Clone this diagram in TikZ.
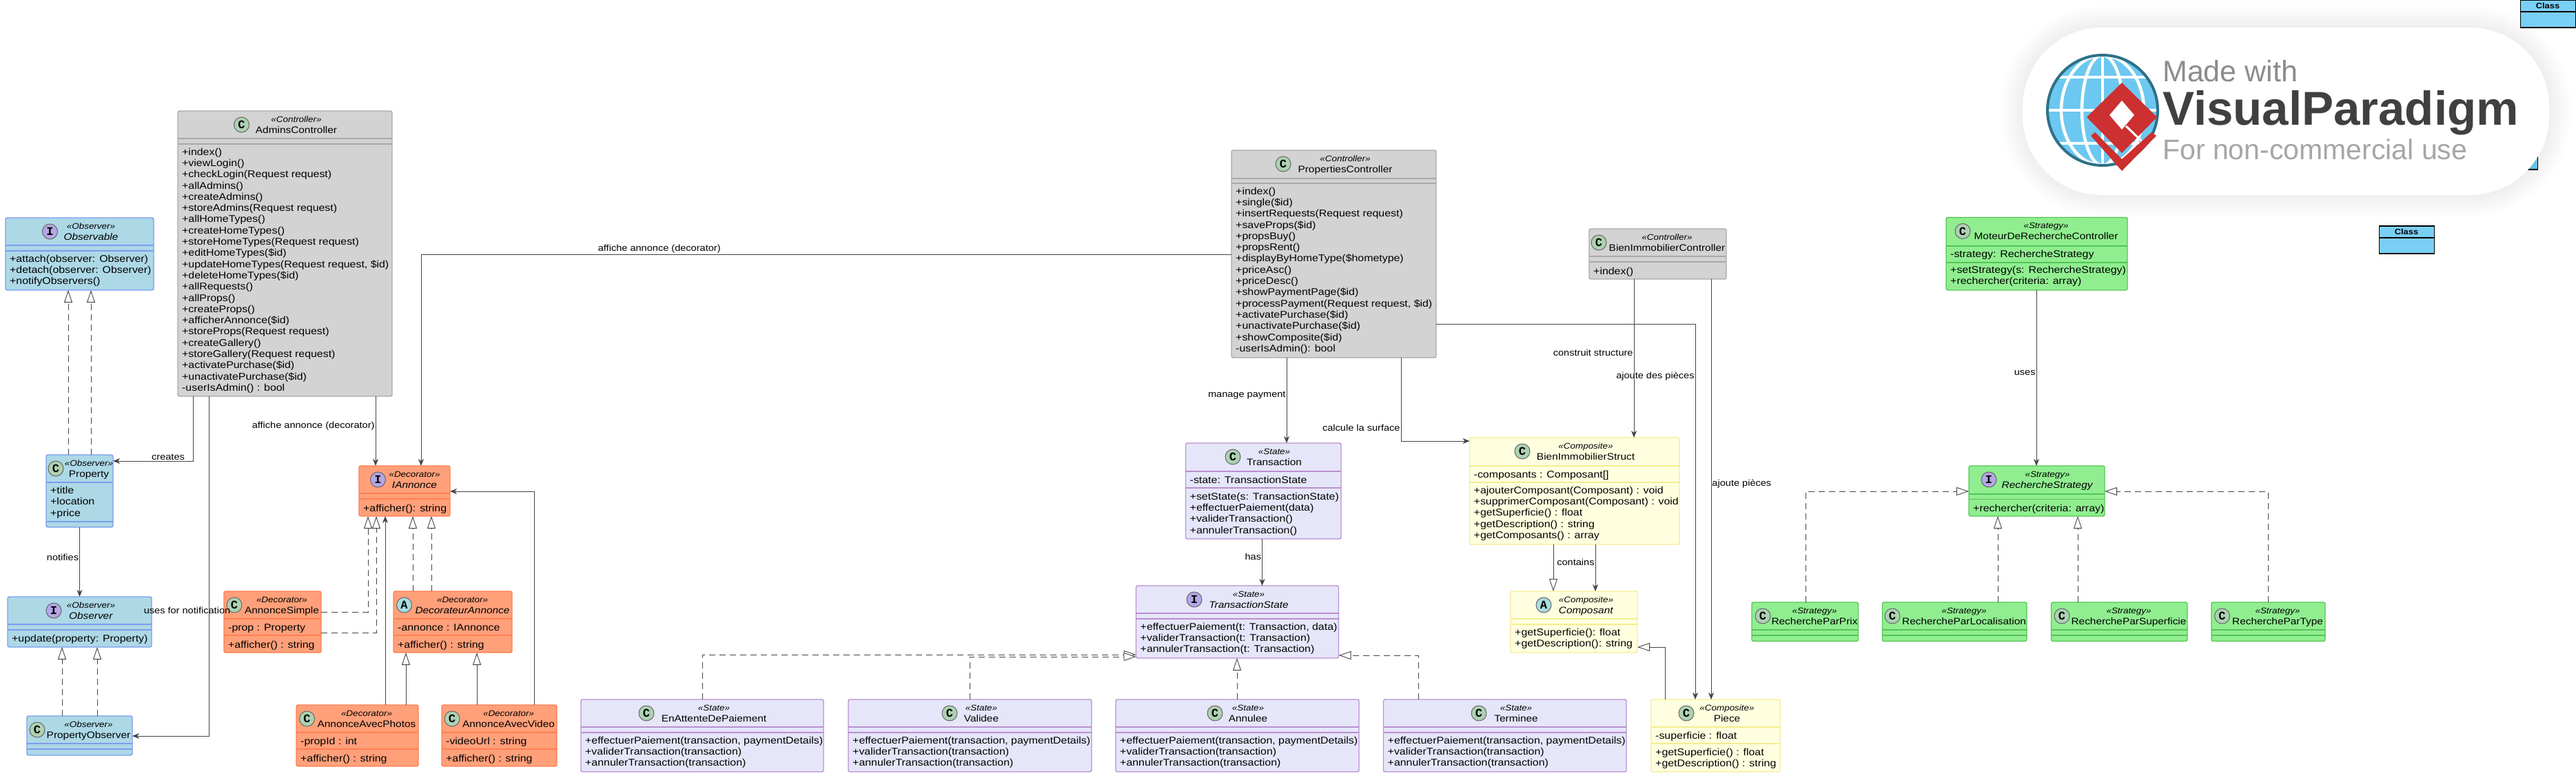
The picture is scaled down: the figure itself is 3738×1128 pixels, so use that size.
\documentclass[tikz,border=0pt]{standalone}
\usepackage{fontspec}
\setmainfont{Liberation Sans}[FakeStretch=1.12]
\newfontfamily\markfont{Liberation Mono}
\newfontfamily\wmfont{Liberation Sans}
\usepackage{tikz}
\usetikzlibrary{arrows.meta,positioning}

\definecolor{ctrlfill}{HTML}{D3D3D3}
\definecolor{ctrldraw}{HTML}{A9A9A9}
\definecolor{obsfill}{HTML}{ADD8E6}
\definecolor{obsdraw}{HTML}{7B9CF0}
\definecolor{decofill}{HTML}{FFA07A}
\definecolor{decodraw}{HTML}{FF7F50}
\definecolor{statefill}{HTML}{E6E6FA}
\definecolor{statedraw}{HTML}{BA8FCF}
\definecolor{compfill}{HTML}{FFFFE0}
\definecolor{compdraw}{HTML}{F5EC8F}
\definecolor{stratfill}{HTML}{90EE90}
\definecolor{stratdraw}{HTML}{55C455}
\definecolor{vpfill}{HTML}{7ACFF5}
\definecolor{linegrey}{HTML}{444444}
\definecolor{cspotfill}{HTML}{ADD1B2}
\definecolor{ispotfill}{HTML}{B4A7E5}
\definecolor{aspotfill}{HTML}{A9DCDF}
\definecolor{globeblue}{HTML}{6CC8F0}
\definecolor{globering}{HTML}{2F7188}
\definecolor{vpred}{HTML}{CC3030}

% box of a class with its two dividers
\newcommand{\umlbox}[8][]{
  \def\boxtop{#4}
  \node[classbox,#1,anchor=north west,minimum width=(#5-#3)*1pt,minimum height=(#6-#4)*1pt] (#2) at (#3,#4) {};
  \draw[#1,line width=1.1pt,fill=none] (#3,#7) -- (#5,#7);
  \draw[#1,line width=1.1pt,fill=none] (#3,#8) -- (#5,#8);
}
% spot, stereotype and name of a class
\newcommand{\umlhead}[7]{
  \node[spot,#2] (#1-spot) at (#4,\boxtop+20) {#3};
  \node[stereo] (#1-stereo) at (#5,\boxtop+16) {«#6»};
  \node[classname] (#1-name) at (#5,\boxtop+32) {#7};
}

\begin{document}
\begin{tikzpicture}[x=1pt,y=-1pt,
    classbox/.style={rounded corners=2.5pt,line width=1.4pt,outer sep=0pt,inner sep=0pt},
    ctrlbox/.style={draw=ctrldraw,fill=ctrlfill},
    obsbox/.style={draw=obsdraw,fill=obsfill},
    decobox/.style={draw=decodraw,fill=decofill},
    statebox/.style={draw=statedraw,fill=statefill},
    compbox/.style={draw=compdraw,fill=compfill},
    stratbox/.style={draw=stratdraw,fill=stratfill},
    vpbox/.style={draw=black,fill=vpfill,sharp corners},
    spot/.style={circle,draw=black!60,line width=1pt,minimum size=22pt,inner sep=0pt,font=\markfont\bfseries\fontsize{17}{17}\selectfont},
    cspot/.style={fill=cspotfill},
    ispot/.style={fill=ispotfill},
    aspot/.style={fill=aspotfill},
    stereo/.style={anchor=base,inner sep=0pt,font=\itshape\fontsize{12}{14}\selectfont},
    classname/.style={anchor=base,inner sep=0pt,font=\fontsize{13.75}{16}\selectfont},
    members/.style={anchor=north west,inner sep=0pt,align=left,font=\fontsize{14.2}{16.3}\selectfont,execute at begin node=\strut},
    edgelabel/.style={inner sep=1pt,font=\fontsize{13}{15}\selectfont},
    vplabel/.style={anchor=base,inner sep=0pt,font=\bfseries\fontsize{11.5}{12}\selectfont},
    assoc/.style={draw=linegrey,line width=.9pt,-{Stealth[length=10pt,width=8pt,inset=3pt]}},
    inherit/.style={draw=linegrey,line width=.9pt,-{Triangle[length=18pt,width=12pt,fill=white]}},
    realize/.style={inherit,dash pattern=on 9pt off 6pt}]
  \useasboundingbox (0,0) rectangle (3738,1128);

  % observer
  \umlbox[obsbox]{observable}{8}{316}{223}{421}{356}{364}
  \umlhead{observable}{ispot}{I}{72.5}{132}{Observer}{\textit{Observable}}
  \node[members] (observable-m) at (14,369.6) {+attach(observer: Observer)\\+detach(observer: Observer)\\+notifyObservers()};
  \umlbox[obsbox]{property}{67}{660}{164}{765}{700}{757}
  \umlhead{property}{cspot}{C}{81}{129}{Observer}{Property}
  \node[members] (property-a) at (73,706) {+title\\+location\\+price};
  \umlbox[obsbox]{observer}{11}{866}{220}{939}{906}{914}
  \umlhead{observer}{ispot}{I}{78}{132}{Observer}{\textit{Observer}}
  \node[members] (observer-m) at (17,919.6) {+update(property: Property)};
  \umlbox[obsbox]{propobserver}{39}{1039}{192}{1096}{1079}{1087}
  \umlhead{propobserver}{cspot}{C}{54}{128.5}{Observer}{PropertyObserver}

  % controllers
  \umlbox[ctrlbox]{admins}{258}{161}{569}{575}{201}{209}
  \umlhead{admins}{cspot}{C}{350.5}{430}{Controller}{AdminsController}
  \node[members] (admins-m) at (264,214.6) {+index()\\+viewLogin()\\+checkLogin(Request request)\\+allAdmins()\\+createAdmins()\\+storeAdmins(Request request)\\+allHomeTypes()\\+createHomeTypes()\\+storeHomeTypes(Request request)\\+editHomeTypes(\$id)\\+updateHomeTypes(Request request, \$id)\\+deleteHomeTypes(\$id)\\+allRequests()\\+allProps()\\+createProps()\\+afficherAnnonce(\$id)\\+storeProps(Request request)\\+createGallery()\\+storeGallery(Request request)\\+activatePurchase(\$id)\\+unactivatePurchase(\$id)\\-userIsAdmin() : bool};
  \umlbox[ctrlbox]{properties}{1787}{218}{2084}{519}{259}{266}
  \umlhead{properties}{cspot}{C}{1862}{1952}{Controller}{PropertiesController}
  \node[members] (properties-m) at (1793,271.6) {+index()\\+single(\$id)\\+insertRequests(Request request)\\+saveProps(\$id)\\+propsBuy()\\+propsRent()\\+displayByHomeType(\$hometype)\\+priceAsc()\\+priceDesc()\\+showPaymentPage(\$id)\\+processPayment(Request request, \$id)\\+activatePurchase(\$id)\\+unactivatePurchase(\$id)\\+showComposite(\$id)\\-userIsAdmin(): bool};
  \umlbox[ctrlbox]{bienctrl}{2306}{332}{2505}{405}{372}{380}
  \umlhead{bienctrl}{cspot}{C}{2320}{2419}{Controller}{BienImmobilierController}
  \node[members] (bienctrl-m) at (2312,386.6) {+index()};

  % decorator
  \umlbox[decobox]{iannonce}{521}{676}{653}{749}{716}{724}
  \umlhead{iannonce}{ispot}{I}{548.5}{601.5}{Decorator}{\textit{IAnnonce}}
  \node[members] (iannonce-m) at (527,730.6) {+afficher(): string};
  \umlbox[decobox]{simple}{325}{858}{466}{947}{898}{922}
  \umlhead{simple}{cspot}{C}{340}{409}{Decorator}{AnnonceSimple}
  \node[members] (simple-a) at (331,903.6) {-prop : Property};
  \node[members] (simple-m) at (331,928.6) {+afficher() : string};
  \umlbox[decobox]{decorateur}{571}{858}{743}{947}{898}{922}
  \umlhead{decorateur}{aspot}{A}{586.5}{671}{Decorator}{\textit{DecorateurAnnonce}}
  \node[members] (decorateur-a) at (577,903.6) {-annonce : IAnnonce};
  \node[members] (decorateur-m) at (577,928.6) {+afficher() : string};
  \umlbox[decobox]{photos}{430}{1023}{607}{1112}{1063}{1087}
  \umlhead{photos}{cspot}{C}{445.5}{532}{Decorator}{AnnonceAvecPhotos}
  \node[members] (photos-a) at (436,1068.6) {-propId : int};
  \node[members] (photos-m) at (436,1093.6) {+afficher() : string};
  \umlbox[decobox]{video}{641}{1023}{808}{1112}{1063}{1087}
  \umlhead{video}{cspot}{C}{656}{738}{Decorator}{AnnonceAvecVideo}
  \node[members] (video-a) at (647,1068.6) {-videoUrl : string};
  \node[members] (video-m) at (647,1093.6) {+afficher() : string};

  % state
  \umlbox[statebox]{transaction}{1720.5}{643}{1946}{782}{684}{708}
  \umlhead{transaction}{cspot}{C}{1789}{1849}{State}{Transaction}
  \node[members] (transaction-a) at (1726.5,689.6) {-state: TransactionState};
  \node[members] (transaction-m) at (1726.5,714.6) {+setState(s: TransactionState)\\+effectuerPaiement(data)\\+validerTransaction()\\+annulerTransaction()};
  \umlbox[statebox]{tstate}{1648.5}{850}{1942.5}{955}{890}{898}
  \umlhead{tstate}{ispot}{I}{1733}{1812}{State}{\textit{TransactionState}}
  \node[members] (tstate-m) at (1654.5,903.6) {+effectuerPaiement(t: Transaction, data)\\+validerTransaction(t: Transaction)\\+annulerTransaction(t: Transaction)};
  \umlbox[statebox]{attente}{843}{1015}{1195}{1120}{1055}{1063}
  \umlhead{attente}{cspot}{C}{938}{1036}{State}{EnAttenteDePaiement}
  \node[members] (attente-m) at (849,1068.6) {+effectuerPaiement(transaction, paymentDetails)\\+validerTransaction(transaction)\\+annulerTransaction(transaction)};
  \umlbox[statebox]{validee}{1231}{1015}{1584}{1120}{1055}{1063}
  \umlhead{validee}{cspot}{C}{1378}{1424}{State}{Validee}
  \node[members] (validee-m) at (1237,1068.6) {+effectuerPaiement(transaction, paymentDetails)\\+validerTransaction(transaction)\\+annulerTransaction(transaction)};
  \umlbox[statebox]{annulee}{1619}{1015}{1972}{1120}{1055}{1063}
  \umlhead{annulee}{cspot}{C}{1763}{1811}{State}{Annulee}
  \node[members] (annulee-m) at (1625,1068.6) {+effectuerPaiement(transaction, paymentDetails)\\+validerTransaction(transaction)\\+annulerTransaction(transaction)};
  \umlbox[statebox]{terminee}{2007.5}{1015}{2360}{1120}{1055}{1063}
  \umlhead{terminee}{cspot}{C}{2146}{2200}{State}{Terminee}
  \node[members] (terminee-m) at (2013.5,1068.6) {+effectuerPaiement(transaction, paymentDetails)\\+validerTransaction(transaction)\\+annulerTransaction(transaction)};

  % composite
  \umlbox[compbox]{struct}{2132.5}{635}{2437}{790}{676}{700}
  \umlhead{struct}{cspot}{C}{2209}{2301}{Composite}{BienImmobilierStruct}
  \node[members] (struct-a) at (2138.5,681.6) {-composants : Composant[]};
  \node[members] (struct-m) at (2138.5,705.6) {+ajouterComposant(Composant) : void\\+supprimerComposant(Composant) : void\\+getSuperficie() : float\\+getDescription() : string\\+getComposants() : array};
  \umlbox[compbox]{composant}{2192}{858}{2376}{947}{898}{906}
  \umlhead{composant}{aspot}{A}{2240}{2301.5}{Composite}{\textit{Composant}}
  \node[members] (composant-m) at (2198,911.6) {+getSuperficie(): float\\+getDescription(): string};
  \umlbox[compbox]{piece}{2396}{1015}{2583}{1120}{1055}{1079}
  \umlhead{piece}{cspot}{C}{2447}{2506}{Composite}{Piece}
  \node[members] (piece-a) at (2402,1060.6) {-superficie : float};
  \node[members] (piece-m) at (2402,1085.6) {+getSuperficie() : float\\+getDescription() : string};

  % strategy
  \umlbox[stratbox]{moteur}{2824}{315.5}{3087}{421}{357}{381}
  \umlhead{moteur}{cspot}{C}{2848}{2969}{Strategy}{MoteurDeRechercheController}
  \node[members] (moteur-a) at (2830,362) {-strategy: RechercheStrategy};
  \node[members] (moteur-m) at (2830,386) {+setStrategy(s: RechercheStrategy)\\+rechercher(criteria: array)};
  \umlbox[stratbox]{rstrategy}{2857}{676}{3054}{749}{717}{724.5}
  \umlhead{rstrategy}{ispot}{I}{2886}{2971}{Strategy}{\textit{RechercheStrategy}}
  \node[members] (rstrategy-m) at (2863,730.6) {+rechercher(criteria: array)};
  \umlbox[stratbox]{prix}{2542}{874}{2696.5}{930.5}{914}{922}
  \umlhead{prix}{cspot}{C}{2558}{2633}{Strategy}{RechercheParPrix}
  \umlbox[stratbox]{localisation}{2731.5}{874}{2941}{930.5}{914}{922}
  \umlhead{localisation}{cspot}{C}{2746}{2850}{Strategy}{RechercheParLocalisation}
  \umlbox[stratbox]{superficie}{2976.5}{874}{3174}{930.5}{914}{922}
  \umlhead{superficie}{cspot}{C}{2992}{3089}{Strategy}{RechercheParSuperficie}
  \umlbox[stratbox]{typesearch}{3209}{874}{3374}{930.5}{914}{922}
  \umlhead{typesearch}{cspot}{C}{3224.5}{3305}{Strategy}{RechercheParType}

  % empty class boxes
  \umlbox[vpbox,line width=1.1pt]{classa}{3657}{0.5}{3737.5}{40}{17}{17}
  \node[vplabel] (classa-name) at (3697,12) {Class};
  \umlbox[vpbox,line width=1.1pt]{classb}{3452.5}{328}{3532}{368}{345}{345}
  \node[vplabel] (classb-name) at (3492,340) {Class};
  \umlbox[vpbox,line width=1.1pt]{classc}{3602}{206}{3682}{246}{223}{223}

  % connectors
  \draw[realize] (property.north -| 99,0) -- (observable.south -| 99,0);
  \draw[realize] (property.north -| 132,0) -- (observable.south -| 132,0);
  \draw[realize] (propobserver.north -| 90,0) -- (observer.south -| 90,0);
  \draw[realize] (propobserver.north -| 141,0) -- (observer.south -| 141,0);
  \draw[assoc] (property.south -| 115.5,0) -- node[edgelabel,left,pos=.43] (lbl-notifies) {notifies} (observer.north -| 115.5,0);
  \draw[assoc] (admins.south -| 280,0) |- node[edgelabel,above,pos=.655] (lbl-creates) {creates} (property.east |- 0,669);
  \draw[assoc] (admins.south -| 303,0) |- (propobserver.east |- 0,1068);
  \draw[assoc] (admins.south -| 545,0) -- node[edgelabel,left,pos=.426] (lbl-affiche) {affiche annonce (decorator)} (iannonce.north -| 545,0);
  \draw[assoc] (properties.west |- 0,369) -| node[edgelabel,above,pos=.353] (lbl-afficheb) {affiche annonce (decorator)} (iannonce.north -| 611,0);
  \node[edgelabel] (lbl-notification) at (271.5,886) {uses for notification};

  \draw[realize] (simple.east |- 0,888) -| (iannonce.south -| 534,0);
  \draw[realize] (simple.east |- 0,918) -| (iannonce.south -| 546,0);
  \draw[realize] (decorateur.north -| 599,0) -- (iannonce.south -| 599,0);
  \draw[realize] (decorateur.north -| 626,0) -- (iannonce.south -| 626,0);
  \draw[assoc] (photos.north -| 559,0) -- (iannonce.south -| 559,0);
  \draw[inherit] (photos.north -| 589,0) -- (decorateur.south -| 589,0);
  \draw[inherit] (video.north -| 692,0) -- (decorateur.south -| 692,0);
  \draw[assoc] (video.north -| 775,0) |- (iannonce.east |- 0,713);

  \draw[assoc] (properties.south -| 1867,0) -- node[edgelabel,left,pos=.44] (lbl-payment) {manage payment} (transaction.north -| 1867,0);
  \draw[assoc] (transaction.south -| 1831.5,0) -- node[edgelabel,left,pos=.38] (lbl-has) {has} (tstate.north -| 1831.5,0);
  \draw[realize] (attente.north -| 1019,0) |- (tstate.west |- 0,950);
  \draw[realize] (validee.north -| 1407,0) |- (tstate.west |- 0,953);
  \draw[realize] (annulee.north -| 1795,0) -- (tstate.south -| 1795,0);
  \draw[realize] (terminee.north -| 2058,0) |- (tstate.east |- 0,951);

  \draw[assoc] (properties.south -| 2033,0) |- node[edgelabel,left,pos=.42] (lbl-surface) {calcule la surface} (struct.west |- 0,640);
  \draw[assoc] (properties.east |- 0,470) -| node[edgelabel,left,pos=.57] (lbl-pieces) {ajoute des pièces} (piece.north -| 2460,0);
  \draw[assoc] (bienctrl.south -| 2371,0) -- node[edgelabel,left,pos=.465] (lbl-structure) {construit structure} (struct.north -| 2371,0);
  \draw[assoc] (bienctrl.south -| 2483,0) -- node[edgelabel,right,pos=.487] (lbl-ajoute) {ajoute pièces} (piece.north -| 2483,0);
  \draw[inherit] (struct.south -| 2254,0) -- (composant.north -| 2254,0);
  \draw[assoc] (struct.south -| 2315,0) -- node[edgelabel,left,pos=.38] (lbl-contains) {contains} (composant.north -| 2315,0);
  \draw[inherit] (piece.north -| 2416,0) |- (composant.east |- 0,939);

  \draw[assoc] (moteur.south -| 2955,0) -- node[edgelabel,left,pos=.47] (lbl-uses) {uses} (rstrategy.north -| 2955,0);
  \draw[realize] (prix.north -| 2620,0) |- (rstrategy.west |- 0,713);
  \draw[realize] (localisation.north -| 2899,0) -- (rstrategy.south -| 2899,0);
  \draw[realize] (superficie.north -| 3015,0) -- (rstrategy.south -| 3015,0);
  \draw[realize] (typesearch.north -| 3291,0) |- (rstrategy.east |- 0,713);

  % watermark
  \foreach \g in {2,4,...,32}
    \fill[black,opacity=.005,rounded corners=115pt+\g*1pt] (2935-\g,40-\g) rectangle (3699+\g,283+\g);
  \fill[white,rounded corners=115pt] (2935,40) rectangle (3699,283);
  \begin{scope}
    \clip (3051,160) circle (80pt);
    \fill[globeblue] (3051,160) circle (80pt);
    \draw[white,line width=4.5pt] (2960,112) -- (3140,112) (2960,160) -- (3140,160) (2960,208) -- (3140,208) (3051,70) -- (3051,250);
    \draw[white,line width=4.5pt] (3051,160) ellipse (30pt and 80pt) (3051,160) ellipse (60pt and 80pt);
  \end{scope}
  \draw[globering,line width=4pt] (3051,160) circle (80pt);
  \fill[vpred] (3079,120) -- (3130,170) -- (3079,222) -- (3028,170) -- cycle;
  \fill[white] (3079,146) -- (3097,167) -- (3079,188) -- (3061,167) -- cycle;
  \draw[white,line width=3pt] (3085,183) -- (3108,205);
  \fill[vpred] (3034,197) -- (3079,248) -- (3129,197) -- (3122,192) -- (3079,231) -- (3040,192) -- cycle;
  \node[anchor=base west,inner sep=0pt,text=black!45,font=\wmfont\fontsize{43}{43}\selectfont] (wm-made) at (3138,118) {Made with};
  \node[anchor=base west,inner sep=0pt,text=black!75,font=\wmfont\bfseries\fontsize{69}{69}\selectfont] (wm-vp) at (3138,181) {VisualParadigm};
  \node[anchor=base west,inner sep=0pt,text=black!35,font=\wmfont\fontsize{41}{41}\selectfont] (wm-use) at (3138,231) {For non-commercial use};
\end{tikzpicture}
\end{document}
